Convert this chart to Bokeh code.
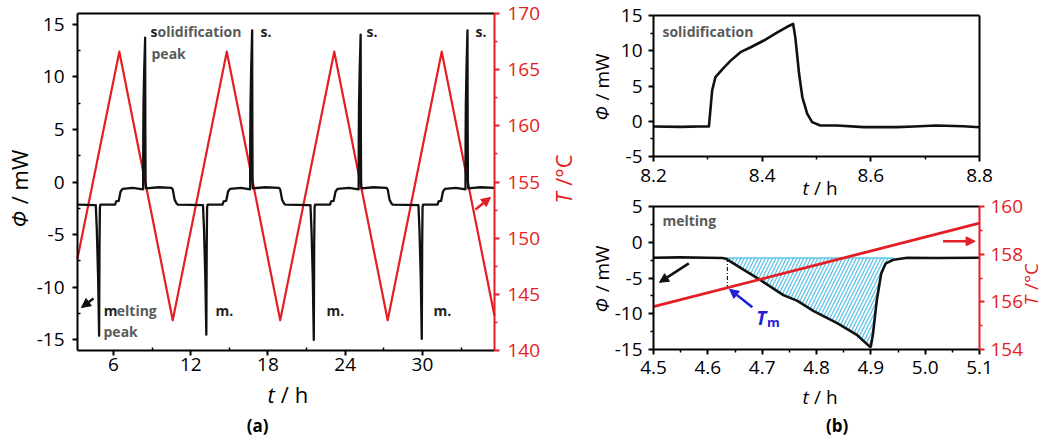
import numpy as np
from bokeh.plotting import figure
from bokeh.models import Range1d, LinearAxis, FixedTicker, PrintfTickFormatter, Label, Arrow, NormalHead
from bokeh.layouts import row, column
from bokeh.embed import file_html
from bokeh.resources import INLINE

FONT = "Open Sans"
RED = "#E31E24"
BLUE = "#1F22D6"
HATCH = "#5EC4E6"
GRAY = "#5A5A5A"
INK = "#111111"
TICK_SIZE = "19px"
TITLE_A = "22px"
TITLE_B = "19px"

# ---------------- (a) repeated melting / solidification cycles ----------------
temp_t = [3.2, 6.45, 10.6, 14.8, 18.95, 23.15, 27.3, 31.5, 35.6]
temp_T = [148.2, 166.6, 142.7, 166.6, 142.7, 166.6, 142.7, 166.6, 143.1]

phi_t = [
    3.2, 4.62, 4.70, 4.80, 4.88, 4.91, 4.94, 4.98,
    6.12, 6.20, 6.40, 6.55, 6.70, 7.50, 8.29,
    8.30, 8.31, 8.33, 8.38, 8.43, 8.455, 8.47, 8.49, 8.52,
    9.50, 10.50, 10.60, 10.75, 10.90, 11.00,
    12.95, 13.03, 13.13, 13.21, 13.24, 13.27, 13.31,
    14.47, 14.55, 14.75, 14.90, 15.05, 15.90, 16.61,
    16.615, 16.625, 16.645, 16.695, 16.745, 16.77, 16.785, 16.805, 16.835,
    17.80, 18.85, 18.95, 19.10, 19.25, 19.35,
    21.30, 21.38, 21.48, 21.56, 21.59, 21.62, 21.66,
    22.82, 22.90, 23.10, 23.25, 23.40, 24.30, 25.04,
    25.045, 25.055, 25.075, 25.125, 25.175, 25.20, 25.215, 25.235, 25.265,
    26.20, 27.20, 27.30, 27.45, 27.60, 27.70,
    29.69, 29.77, 29.87, 29.95, 29.98, 30.01, 30.05,
    31.17, 31.25, 31.45, 31.60, 31.75, 32.60, 33.34,
    33.345, 33.355, 33.375, 33.425, 33.475, 33.50, 33.515, 33.535, 33.565,
    34.50, 35.60,
]
phi_v = [
    -2.15, -2.2, -4.5, -9.0, -14.6, -6.0, -2.4, -2.15,
    -2.15, -1.85, -1.8, -0.9, -0.65, -0.55, -0.7,
    -0.7, 4.4, 7.4, 10.5, 12.6, 13.7, 5.0, 0.0, -0.6,
    -0.5, -0.55, -0.7, -1.7, -2.05, -2.15,
    -2.2, -4.5, -9.0, -14.5, -6.0, -2.4, -2.15,
    -2.15, -1.85, -1.8, -0.9, -0.65, -0.55, -0.7,
    -0.7, 4.4, 7.4, 10.8, 13.1, 14.4, 5.0, 0.0, -0.6,
    -0.5, -0.55, -0.7, -1.7, -2.05, -2.15,
    -2.2, -4.5, -9.0, -15.0, -6.0, -2.4, -2.15,
    -2.15, -1.85, -1.8, -0.9, -0.65, -0.55, -0.7,
    -0.7, 4.4, 7.4, 10.6, 12.8, 14.0, 5.0, 0.0, -0.6,
    -0.5, -0.55, -0.7, -1.7, -2.05, -2.15,
    -2.2, -4.5, -9.0, -14.9, -6.0, -2.4, -2.15,
    -2.15, -1.85, -1.8, -0.9, -0.65, -0.55, -0.7,
    -0.7, 4.4, 7.4, 10.8, 13.1, 14.4, 5.0, 0.0, -0.6,
    -0.5, -0.55,
]
assert len(phi_t) == len(phi_v)

# ---------------- (b) close-up of one solidification peak ----------------
sol_t = [8.20, 8.25, 8.30, 8.302, 8.308, 8.314, 8.327, 8.342, 8.36, 8.379, 8.403,
         8.428, 8.446, 8.457, 8.461, 8.468, 8.474, 8.483, 8.492, 8.507, 8.538,
         8.587, 8.648, 8.679, 8.72, 8.77, 8.80]
sol_phi = [-0.75, -0.8, -0.7, -0.74, 4.4, 6.25, 7.4, 8.6, 9.8, 10.5, 11.45,
           12.6, 13.4, 13.8, 11.9, 6.7, 3.4, 1.05, -0.13, -0.6, -0.6,
           -0.84, -0.84, -0.75, -0.6, -0.7, -0.85]

# ---------------- (b) close-up of one melting peak ----------------
melt_t = [4.50, 4.55, 4.60, 4.627, 4.633, 4.667, 4.697, 4.739, 4.765, 4.794, 4.838,
          4.875, 4.898, 4.90, 4.904, 4.911, 4.919, 4.927, 4.942, 4.967, 5.02, 5.10]
melt_phi = [-2.16, -2.12, -2.16, -2.2, -2.3, -3.9, -5.3, -7.4, -8.2, -9.6, -11.3,
            -13.0, -14.6, -14.6, -12.8, -8.1, -4.4, -3.0, -2.44, -2.16, -2.2, -2.16]
melt_T_t = [4.50, 5.10]
melt_T = [155.8, 159.3]
melt_base = -2.2
area_start, area_end = 4.633, 4.942
onset_t = 4.636


def padded(lo, hi, px_span, px_before, px_after):
    """Range whose [lo, hi] part covers px_span pixels, with extra margin pixels around it."""
    k = (hi - lo) / px_span
    return Range1d(lo - px_before * k, hi + px_after * k)


def style_axis(ax, ticks, minor, bounds, fmt="%d", color="black", standoff=6, minor_in=False):
    ax.ticker = FixedTicker(ticks=ticks, minor_ticks=minor)
    ax.formatter = PrintfTickFormatter(format=fmt)
    ax.bounds = bounds
    ax.axis_line_color = color
    ax.axis_line_width = 2
    ax.major_tick_line_color = color
    ax.minor_tick_line_color = color
    ax.major_tick_line_width = 2
    ax.minor_tick_line_width = 1.5
    ax.major_tick_out = 5
    ax.major_tick_in = 0
    ax.minor_tick_out = 0 if minor_in else 3
    ax.minor_tick_in = 3 if minor_in else 0
    ax.major_label_text_font = FONT
    ax.major_label_text_font_size = TICK_SIZE
    ax.major_label_text_color = color
    ax.major_label_standoff = standoff


def spine(p, place, loc, bounds, color="black"):
    ax = LinearAxis(ticker=FixedTicker(ticks=[]), axis_line_color=color, axis_line_width=2,
                    major_tick_out=0, major_tick_in=0, minor_tick_out=0, minor_tick_in=0,
                    major_label_standoff=0, fixed_location=loc, bounds=bounds)
    p.add_layout(ax, place)


def text(p, x, y, s, size, color="black", style="normal", align="left",
         baseline="middle", angle=0.0, y_range_name="default"):
    p.add_layout(Label(x=x, y=y, text=s, text_font=FONT, text_font_size=size,
                       text_color=color, text_font_style=style, text_align=align,
                       text_baseline=baseline, angle=angle, y_range_name=y_range_name))


def arrow(p, x0, y0, x1, y1, color, y_range_name="default"):
    p.add_layout(Arrow(end=NormalHead(size=9, line_color=color, fill_color=color, line_width=1),
                       x_start=x0, y_start=y0, x_end=x1, y_end=y1,
                       line_color=color, line_width=2.5, y_range_name=y_range_name))


def base_fig(width, height, x_range, y_range, **kw):
    p = figure(width=width, height=height, x_range=x_range, y_range=y_range,
               output_backend="svg", toolbar_location=None, min_border=0, **kw)
    p.xgrid.grid_line_color = None
    p.ygrid.grid_line_color = None
    p.outline_line_color = None
    p.background_fill_color = "white"
    p.border_fill_color = "white"
    return p


# ================= (a) =================
A_T, A_PHI, A_TEMP = (3.2, 35.6), (-16, 16), (140, 170)
pa = base_fig(582, 437,
              padded(*A_T, 417, 77, 88),
              padded(*A_PHI, 337, 87, 13))
pa.extra_y_ranges = {"T": padded(*A_TEMP, 337, 87, 13)}

pa.xaxis[0].fixed_location = A_PHI[0]
style_axis(pa.xaxis[0], [6, 12, 18, 24, 30], [9, 15, 21, 27, 33], A_T, standoff=2, minor_in=True)
pa.yaxis[0].fixed_location = A_T[0]
style_axis(pa.yaxis[0], [-15, -10, -5, 0, 5, 10, 15],
           [-12.5, -7.5, -2.5, 2.5, 7.5, 12.5], A_PHI, standoff=8, minor_in=True)
t_axis_a = LinearAxis(y_range_name="T", fixed_location=A_T[1])
style_axis(t_axis_a, [140, 145, 150, 155, 160, 165, 170],
           [142.5, 147.5, 152.5, 157.5, 162.5, 167.5], A_TEMP, color=RED, standoff=8)
pa.add_layout(t_axis_a, "right")
spine(pa, "above", A_PHI[1], A_T)

pa.line(temp_t, temp_T, y_range_name="T", line_color=RED, line_width=2.2, line_join="round")
pa.line(phi_t, phi_v, line_color=INK, line_width=2.3, line_join="round")

# axis titles
text(pa, -1.38, -4.32, "Φ", TITLE_A, style="italic", angle=np.pi / 2)
text(pa, -1.38, -2.11, "/ mW", TITLE_A, angle=np.pi / 2)
text(pa, 17.96, -20.1, "t", TITLE_A, style="italic")
text(pa, 19.0, -20.1, "/ h", TITLE_A)
text(pa, 40.96, -2.04, "T", TITLE_A, color=RED, style="italic", angle=np.pi / 2)
text(pa, 40.96, -0.36, "/°C", TITLE_A, color=RED, angle=np.pi / 2)
text(pa, 17.2, -23.13, "(a)", "17px", style="bold", align="center")

# peak annotations
text(pa, 8.87, 14.3, "s", "14px", color="#222222", style="bold")
text(pa, 9.42, 14.3, "olidification", "14px", color=GRAY, style="bold")
text(pa, 8.95, 12.2, "peak", "14px", color=GRAY, style="bold")
text(pa, 5.24, -12.16, "m", "14px", color="#222222", style="bold")
text(pa, 6.25, -12.16, "elting", "14px", color=GRAY, style="bold")
text(pa, 5.22, -14.2, "peak", "14px", color=GRAY, style="bold")
for ts in [17.42, 25.66, 34.12]:
    text(pa, ts, 14.3, "s.", "14px", color="#222222", style="bold")
for tm in [13.92, 22.54, 30.86]:
    text(pa, tm, -12.2, "m.", "14px", color="#222222", style="bold")

arrow(pa, 4.44, -11.07, 3.51, -11.92, INK)
arrow(pa, 34.12, 152.56, 35.29, 153.63, RED, y_range_name="T")

# ================= (b) top: solidification =================
B1_T, B1_PHI = (8.2, 8.8), (-5, 15)
pb1 = base_fig(462, 200,
               padded(*B1_T, 326, 71, 65),
               padded(*B1_PHI, 141, 44, 15))
pb1.xaxis[0].fixed_location = B1_PHI[0]
style_axis(pb1.xaxis[0], [8.2, 8.4, 8.6, 8.8], [8.3, 8.5, 8.7], B1_T, fmt="%.1f", standoff=7)
pb1.yaxis[0].fixed_location = B1_T[0]
style_axis(pb1.yaxis[0], [-5, 0, 5, 10, 15], [-2.5, 2.5, 7.5, 12.5], B1_PHI, standoff=6)
spine(pb1, "above", B1_PHI[1], B1_T)
spine(pb1, "right", B1_T[1], B1_PHI)
pb1.line(sol_t, sol_phi, line_color=INK, line_width=2.6, line_join="round")
text(pb1, 8.2165, 12.7, "solidification", "14px", color=GRAY, style="bold")
text(pb1, 8.1045, 0.11, "Φ", TITLE_B, style="italic", angle=np.pi / 2)
text(pb1, 8.1045, 2.96, "/ mW", TITLE_B, angle=np.pi / 2)
text(pb1, 8.4742, -9.4, "t", TITLE_B, style="italic")
text(pb1, 8.4954, -9.4, "/ h", TITLE_B)

# ================= (b) bottom: melting =================
# transparent and pulled up by a few pixels so that its top tick labels have room
B2_T, B2_PHI, B2_TEMP = (4.5, 5.1), (-15, 5), (154, 160)
pb2 = base_fig(462, 245,
               padded(*B2_T, 326, 71, 65),
               padded(*B2_PHI, 143, 88, 14),
               margin=(-8, 0, 0, 0))
pb2.background_fill_alpha = 0
pb2.border_fill_alpha = 0
pb2.extra_y_ranges = {"T": padded(*B2_TEMP, 143, 88, 14)}
pb2.xaxis[0].fixed_location = B2_PHI[0]
style_axis(pb2.xaxis[0], [4.5, 4.6, 4.7, 4.8, 4.9, 5.0, 5.1],
           [4.55, 4.65, 4.75, 4.85, 4.95, 5.05], B2_T, fmt="%.1f", standoff=6)
pb2.yaxis[0].fixed_location = B2_T[0]
style_axis(pb2.yaxis[0], [-15, -10, -5, 0, 5], [-12.5, -7.5, -2.5, 2.5], B2_PHI, standoff=6)
t_axis_b = LinearAxis(y_range_name="T", fixed_location=B2_T[1])
style_axis(t_axis_b, [154, 156, 158, 160], [155, 157, 159], B2_TEMP, color=RED, standoff=6)
pb2.add_layout(t_axis_b, "right")
spine(pb2, "above", B2_PHI[1], B2_T)

# hatched melting area between the baseline and the heat-flow curve
mt = np.array(melt_t)
mp = np.array(melt_phi)
inside = (mt > area_start) & (mt < area_end)
area_t = np.concatenate([[area_start], mt[inside], [area_end]])
area_phi = np.concatenate([[np.interp(area_start, mt, mp)], mp[inside], [np.interp(area_end, mt, mp)]])
area_phi = np.minimum(area_phi, melt_base)
pb2.varea(x=area_t, y1=area_phi, y2=np.full_like(area_t, melt_base), fill_color=None,
          fill_alpha=0, hatch_pattern="/", hatch_color=HATCH, hatch_scale=7, hatch_weight=1.3)
pb2.line([area_start, area_end], [melt_base, melt_base], line_color=HATCH, line_width=1.5)

# onset marker: from the baseline down to the temperature line
onset_T = np.interp(onset_t, melt_T_t, melt_T)
onset_phi = B2_PHI[0] + (onset_T - B2_TEMP[0]) / (B2_TEMP[1] - B2_TEMP[0]) * (B2_PHI[1] - B2_PHI[0])
pb2.line([onset_t, onset_t], [melt_base, onset_phi], line_color="#222222", line_width=1.2,
         line_dash="4 2 1 2")

pb2.line(melt_t, melt_phi, line_color=INK, line_width=2.6, line_join="round")
pb2.line(melt_T_t, melt_T, y_range_name="T", line_color=RED, line_width=2.8)

text(pb2, 4.5165, 3.05, "melting", "14px", color=GRAY, style="bold")
text(pb2, 4.4045, -9.83, "Φ", TITLE_B, style="italic", angle=np.pi / 2)
text(pb2, 4.4045, -7.01, "/ mW", TITLE_B, angle=np.pi / 2)
text(pb2, 4.7742, -21.71, "t", TITLE_B, style="italic")
text(pb2, 4.7954, -21.71, "/ h", TITLE_B)
text(pb2, 5.1957, -8.85, "T", TITLE_B, color=RED, style="italic", angle=np.pi / 2)
text(pb2, 5.1957, -6.69, "/°C", TITLE_B, color=RED, angle=np.pi / 2)
text(pb2, 4.838, -25.63, "(b)", "17px", style="bold", align="center")
text(pb2, 4.689, -10.56, "T", "19px", color=BLUE, style="bold italic")
text(pb2, 4.709, -11.2, "m", "13px", color=BLUE, style="bold")

arrow(pb2, 4.682, -9.10, 4.640, -6.58, BLUE)
arrow(pb2, 4.565, -2.96, 4.511, -5.61, INK)
arrow(pb2, 5.033, 158.54, 5.092, 158.54, RED, y_range_name="T")

layout = row(pa, column(pb1, pb2, spacing=0), spacing=0)
open("out.html", "w").write(file_html(layout, INLINE))
